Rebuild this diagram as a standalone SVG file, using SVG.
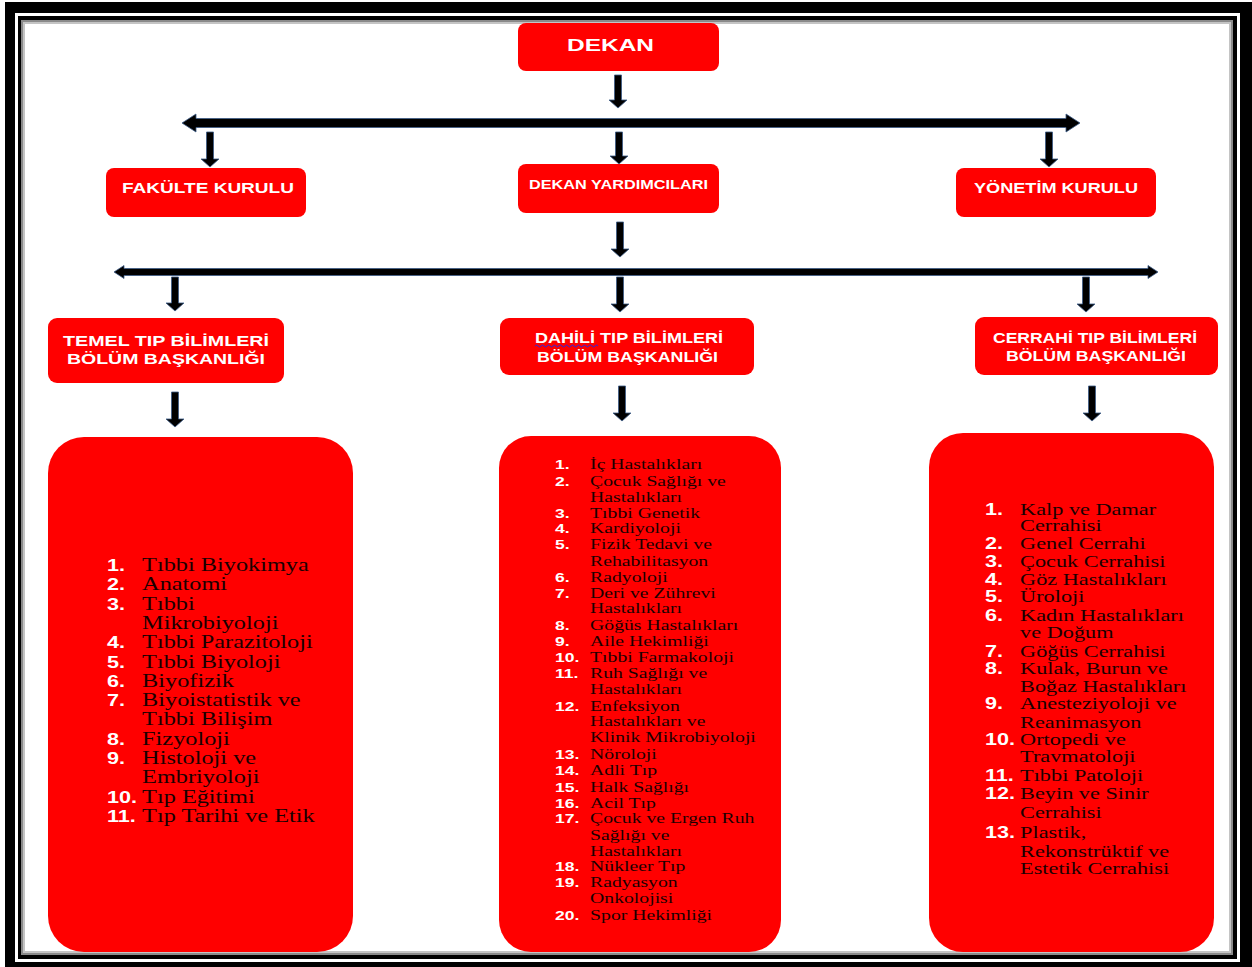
<svg xmlns="http://www.w3.org/2000/svg" width="1252" height="967" viewBox="0 0 1252 967">
<style>
.box{fill:#ff0000}
.hd{font-family:"Liberation Sans",Arial,sans-serif;font-weight:bold;fill:#ffffff}
.arr{fill:#000000;stroke:#3b5b87;stroke-width:0.8}
.it{font-family:"Liberation Serif","Times New Roman",serif;fill:#1a0000}
.nm{font-family:"Liberation Sans",Arial,sans-serif;font-weight:bold;fill:#ffffff}
.l .it{font-size:18px}.l .nm{font-size:16px}
.m .it{font-size:14.6px}.m .nm{font-size:13px}
.r .it{font-size:16.5px}.r .nm{font-size:16px}
</style>
<g id="frame">
<rect x="5" y="2" width="1247" height="965" fill="#000"/>
<rect x="15" y="13" width="1225" height="949" fill="#fff"/>
<rect x="18" y="16" width="1219" height="943" fill="#000"/>
<rect x="21" y="20" width="1212" height="935" fill="#8a8a8a"/>
<rect x="23" y="22" width="1208" height="931" fill="#c4c4c4"/>
<rect x="25" y="24" width="1204" height="927" fill="#fff"/>
</g>
<g id="connectors">
<polygon class="arr" points="614.5,75 621.5,75 621.5,100 627,100 618,108 609,100 614.5,100"/>
<polygon class="arr" points="182,123 196,114 196,118.5 1066,118.5 1066,114 1080,123 1066,132 1066,127.5 196,127.5 196,132"/>
<polygon class="arr" points="206.5,132 213.5,132 213.5,159 219,159 210,167 201,159 206.5,159"/>
<polygon class="arr" points="615.5,132 622.5,132 622.5,156 628,156 619,164 610,156 615.5,156"/>
<polygon class="arr" points="1045.5,132 1052.5,132 1052.5,159 1058,159 1049,167 1040,159 1045.5,159"/>
<polygon class="arr" points="616.5,222 623.5,222 623.5,249 629,249 620,257 611,249 616.5,249"/>
<polygon class="arr" points="114,272 124,265.5 124,268.5 1148,268.5 1148,265.5 1158,272 1148,278.5 1148,275.5 124,275.5 124,278.5"/>
<polygon class="arr" points="171.5,277 178.5,277 178.5,303 184,303 175,311 166,303 171.5,303"/>
<polygon class="arr" points="616.5,277 623.5,277 623.5,304 629,304 620,312 611,304 616.5,304"/>
<polygon class="arr" points="1082.5,277 1089.5,277 1089.5,304 1095,304 1086,312 1077,304 1082.5,304"/>
<polygon class="arr" points="171.5,392 178.5,392 178.5,419 184,419 175,427 166,419 171.5,419"/>
<polygon class="arr" points="618.5,386 625.5,386 625.5,413 631,413 622,421 613,413 618.5,413"/>
<polygon class="arr" points="1088.5,386 1095.5,386 1095.5,413 1101,413 1092,421 1083,413 1088.5,413"/>
</g>
<g id="dekan">
<rect class="box" x="518" y="23" width="201" height="48" rx="8"/>
<text class="hd" x="567" y="51" font-size="17" textLength="87" lengthAdjust="spacingAndGlyphs">DEKAN</text>
</g>
<g id="fakulte-kurulu">
<rect class="box" x="106" y="168" width="200" height="49" rx="8"/>
<text class="hd" x="122" y="193" font-size="14" textLength="172" lengthAdjust="spacingAndGlyphs">FAKÜLTE KURULU</text>
</g>
<g id="dekan-yardimcilari">
<rect class="box" x="518" y="164" width="201" height="49" rx="8"/>
<text class="hd" x="529" y="189" font-size="12" textLength="179" lengthAdjust="spacingAndGlyphs">DEKAN YARDIMCILARI</text>
</g>
<g id="yonetim-kurulu">
<rect class="box" x="956" y="168" width="200" height="49" rx="8"/>
<text class="hd" x="974" y="193" font-size="14" textLength="164" lengthAdjust="spacingAndGlyphs">YÖNETİM KURULU</text>
</g>
<g id="temel">
<rect class="box" x="48" y="318" width="236" height="65" rx="9"/>
<text class="hd" x="63" y="346" font-size="15" textLength="206" lengthAdjust="spacingAndGlyphs">TEMEL TIP BİLİMLERİ</text>
<text class="hd" x="67" y="364" font-size="15" textLength="198" lengthAdjust="spacingAndGlyphs">BÖLÜM  BAŞKANLIĞI</text>
</g>
<g id="dahili">
<rect class="box" x="500" y="318" width="254" height="57" rx="9"/>
<text class="hd" x="535" y="343" font-size="14" textLength="188" lengthAdjust="spacingAndGlyphs">DAHİLİ TIP BİLİMLERİ</text>
<path d="M535,346 q1.5,-2 3,0 t3,0 t3,0 t3,0 t3,0 t3,0 t3,0 t3,0 t3,0 t3,0 t3,0 t3,0 t3,0 t3,0 t3,0 t3,0 t3,0 t3,0 t3,0 t3,0 t3,0" fill="none" stroke="#2828e0" stroke-width="1"/>
<text class="hd" x="537" y="362" font-size="14" textLength="181" lengthAdjust="spacingAndGlyphs">BÖLÜM BAŞKANLIĞI</text>
</g>
<g id="cerrahi">
<rect class="box" x="975" y="317" width="243" height="58" rx="9"/>
<text class="hd" x="993" y="343" font-size="15" textLength="204" lengthAdjust="spacingAndGlyphs">CERRAHİ TIP BİLİMLERİ</text>
<text class="hd" x="1006" y="361" font-size="15" textLength="180" lengthAdjust="spacingAndGlyphs">BÖLÜM BAŞKANLIĞI</text>
</g>
<g id="temel-list">
<rect class="box" x="48" y="437" width="305" height="515" rx="36"/>
<g class="l" transform="translate(107,0) scale(1.35,1)">
<text class="nm" x="0" y="571">1.</text><text class="it" x="26" y="571">Tıbbi Biyokimya</text>
<text class="nm" x="0" y="590">2.</text><text class="it" x="26" y="590">Anatomi</text>
<text class="nm" x="0" y="610">3.</text><text class="it" x="26" y="610">Tıbbi</text>
<text class="it" x="26" y="629">Mikrobiyoloji</text>
<text class="nm" x="0" y="648">4.</text><text class="it" x="26" y="648">Tıbbi Parazitoloji</text>
<text class="nm" x="0" y="668">5.</text><text class="it" x="26" y="668">Tıbbi Biyoloji</text>
<text class="nm" x="0" y="687">6.</text><text class="it" x="26" y="687">Biyofizik</text>
<text class="nm" x="0" y="706">7.</text><text class="it" x="26" y="706">Biyoistatistik ve</text>
<text class="it" x="26" y="725">Tıbbi Bilişim</text>
<text class="nm" x="0" y="745">8.</text><text class="it" x="26" y="745">Fizyoloji</text>
<text class="nm" x="0" y="764">9.</text><text class="it" x="26" y="764">Histoloji ve</text>
<text class="it" x="26" y="783">Embriyoloji</text>
<text class="nm" x="0" y="803">10.</text><text class="it" x="26" y="803">Tıp Eğitimi</text>
<text class="nm" x="0" y="822">11.</text><text class="it" x="26" y="822">Tıp Tarihi ve Etik</text>
</g>
</g>
<g id="dahili-list">
<rect class="box" x="499" y="436" width="282" height="516" rx="32"/>
<g class="m" transform="translate(555,0) scale(1.35,1)">
<text class="nm" x="0" y="469">1.</text><text class="it" x="26" y="469">İç Hastalıkları</text>
<text class="nm" x="0" y="486">2.</text><text class="it" x="26" y="486">Çocuk Sağlığı ve</text>
<text class="it" x="26" y="502">Hastalıkları</text>
<text class="nm" x="0" y="518">3.</text><text class="it" x="26" y="518">Tıbbi Genetik</text>
<text class="nm" x="0" y="533">4.</text><text class="it" x="26" y="533">Kardiyoloji</text>
<text class="nm" x="0" y="549">5.</text><text class="it" x="26" y="549">Fizik Tedavi ve</text>
<text class="it" x="26" y="566">Rehabilitasyon</text>
<text class="nm" x="0" y="582">6.</text><text class="it" x="26" y="582">Radyoloji</text>
<text class="nm" x="0" y="598">7.</text><text class="it" x="26" y="598">Deri ve Zührevi</text>
<text class="it" x="26" y="613">Hastalıkları</text>
<text class="nm" x="0" y="630">8.</text><text class="it" x="26" y="630">Göğüs Hastalıkları</text>
<text class="nm" x="0" y="646">9.</text><text class="it" x="26" y="646">Aile Hekimliği</text>
<text class="nm" x="0" y="662">10.</text><text class="it" x="26" y="662">Tıbbi Farmakoloji</text>
<text class="nm" x="0" y="678">11.</text><text class="it" x="26" y="678">Ruh Sağlığı ve</text>
<text class="it" x="26" y="694">Hastalıkları</text>
<text class="nm" x="0" y="711">12.</text><text class="it" x="26" y="711">Enfeksiyon</text>
<text class="it" x="26" y="726.5">Hastalıkları ve</text>
<text class="it" x="26" y="742">Klinik Mikrobiyoloji</text>
<text class="nm" x="0" y="759">13.</text><text class="it" x="26" y="759">Nöroloji</text>
<text class="nm" x="0" y="775">14.</text><text class="it" x="26" y="775">Adli Tıp</text>
<text class="nm" x="0" y="792">15.</text><text class="it" x="26" y="792">Halk Sağlığı</text>
<text class="nm" x="0" y="808">16.</text><text class="it" x="26" y="808">Acil Tıp</text>
<text class="nm" x="0" y="823.5">17.</text><text class="it" x="26" y="823.5">Çocuk ve Ergen Ruh</text>
<text class="it" x="26" y="840">Sağlığı ve</text>
<text class="it" x="26" y="856">Hastalıkları</text>
<text class="nm" x="0" y="871.5">18.</text><text class="it" x="26" y="871.5">Nükleer Tıp</text>
<text class="nm" x="0" y="887">19.</text><text class="it" x="26" y="887">Radyasyon</text>
<text class="it" x="26" y="903">Onkolojisi</text>
<text class="nm" x="0" y="920">20.</text><text class="it" x="26" y="920">Spor Hekimliği</text>
</g>
</g>
<g id="cerrahi-list">
<rect class="box" x="929" y="433" width="285" height="519" rx="34"/>
<g class="r" transform="translate(985,0) scale(1.35,1)">
<text class="nm" x="0" y="515">1.</text><text class="it" x="26" y="515">Kalp ve Damar</text>
<text class="it" x="26" y="531">Cerrahisi</text>
<text class="nm" x="0" y="549">2.</text><text class="it" x="26" y="549">Genel Cerrahi</text>
<text class="nm" x="0" y="567">3.</text><text class="it" x="26" y="567">Çocuk Cerrahisi</text>
<text class="nm" x="0" y="585">4.</text><text class="it" x="26" y="585">Göz Hastalıkları</text>
<text class="nm" x="0" y="602">5.</text><text class="it" x="26" y="602">Üroloji</text>
<text class="nm" x="0" y="621">6.</text><text class="it" x="26" y="621">Kadın Hastalıkları</text>
<text class="it" x="26" y="638">ve Doğum</text>
<text class="nm" x="0" y="657">7.</text><text class="it" x="26" y="657">Göğüs Cerrahisi</text>
<text class="nm" x="0" y="674">8.</text><text class="it" x="26" y="674">Kulak, Burun ve</text>
<text class="it" x="26" y="692">Boğaz Hastalıkları</text>
<text class="nm" x="0" y="709">9.</text><text class="it" x="26" y="709">Anesteziyoloji ve</text>
<text class="it" x="26" y="728">Reanimasyon</text>
<text class="nm" x="0" y="745">10.</text><text class="it" x="26" y="745">Ortopedi ve</text>
<text class="it" x="26" y="762">Travmatoloji</text>
<text class="nm" x="0" y="781">11.</text><text class="it" x="26" y="781">Tıbbi Patoloji</text>
<text class="nm" x="0" y="799">12.</text><text class="it" x="26" y="799" font-size="18">Beyin ve Sinir</text>
<text class="it" x="26" y="818" font-size="18">Cerrahisi</text>
<text class="nm" x="0" y="838">13.</text><text class="it" x="26" y="838" font-size="18">Plastik,</text>
<text class="it" x="26" y="857" font-size="18">Rekonstrüktif ve</text>
<text class="it" x="26" y="874" font-size="18">Estetik Cerrahisi</text>
</g>
</g>
</svg>
